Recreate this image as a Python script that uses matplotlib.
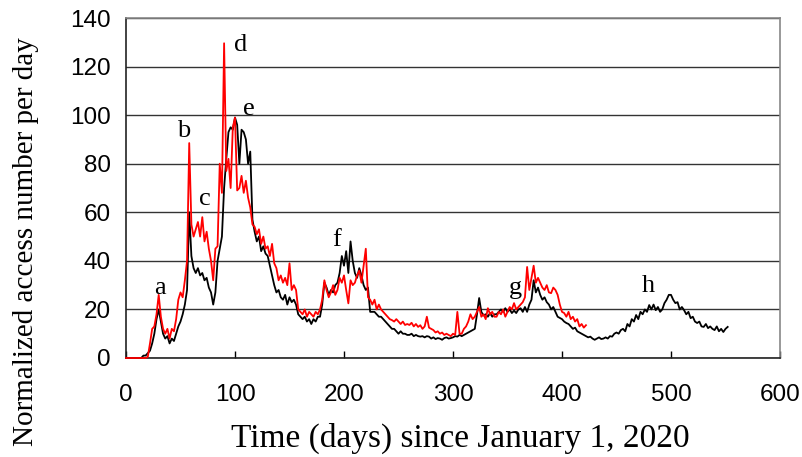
import numpy as np
import matplotlib
matplotlib.use("Agg")
import matplotlib.pyplot as plt

# Black series: sampled every 2 days, day 0 .. 552
black_days = np.arange(0, 553, 2)
black_vals = [
    0, 0, 0, 0, 0, 0, 0, 0, 1, 1,                   # 0-18
    2, 3, 6, 10, 16, 20, 15, 10, 8, 9,              # 20-38
    6, 8, 7, 10, 13, 15, 18, 22, 28, 60,            # 40-58
    42, 37, 35, 37, 34, 35, 32, 33, 29, 27,         # 60-78
    22, 27, 40, 45, 50, 70, 82, 93, 95, 94,         # 80-98
    99, 96, 80, 94, 93, 90, 80, 85, 57, 52,         # 100-118
    48, 50, 44, 46, 43, 42, 38, 34, 30, 27,         # 120-138
    28, 25, 24, 26, 22, 25, 23, 24, 22, 18,         # 140-158
    17, 16, 17, 15, 16, 14, 16, 15, 17, 17,         # 160-178
    22, 31, 29, 26, 28, 27, 30, 31, 35, 42,         # 180-198
    38, 44, 35, 48, 40, 35, 33, 37, 34, 30,         # 200-218
    28, 29, 19, 19, 19, 18, 17, 17, 16, 15,         # 220-238
    14, 13, 12, 12, 11, 10, 11, 10, 10, 9.5,        # 240-258
    9.5, 10, 9, 9.5, 9, 8.8, 9, 8.5, 9, 8.8,        # 260-278
    8, 8.5, 7.8, 8.2, 8, 7.5, 8.2, 8.5, 8, 8.2,     # 280-298
    8.5, 9, 8.8, 9.5, 9, 9.5, 10, 10.5, 11, 11.5,   # 300-318
    12, 18, 24.7, 19, 17.5, 18, 17, 18.5, 17, 18,   # 320-338
    18, 19, 20, 19, 20.5, 19, 20, 18.5, 19.5, 18.5, # 340-358
    20, 20.5, 19, 21, 19, 22, 24, 32, 27, 29,       # 360-378
    26, 24, 25, 23, 22, 20, 21, 19, 17, 16.5,       # 380-398
    16, 15, 14.4, 14, 13, 12, 12.5, 11, 10.5, 10,   # 400-418
    9.5, 9, 8.5, 8.8, 8, 7.5, 8, 8.5, 7.8, 8,       # 420-438
    8.5, 8, 9, 8.8, 10, 10.5, 10, 11.5, 12, 11,     # 440-458
    14, 13, 16, 15, 17.7, 16, 19, 18, 20, 19,       # 460-478
    21.8, 20, 22, 19.7, 21, 19, 20, 22.6, 24, 26,   # 480-498
    26, 24, 22.6, 23, 20, 21, 19.7, 18, 19, 16.4,   # 500-518
    17, 15, 14.4, 15, 13, 12.8, 14, 12.3, 13, 12,   # 520-538
    11.5, 13, 11, 12, 10.7, 12, 12.8,               # 540-552
]

# Red series: sampled every 2 days, day 0 .. 422
red_days = np.arange(0, 423, 2)
red_vals = [
    0, 0, 0, 0, 0, 0, 0, 0, 0, 0,                   # 0-18
    0.5, 6, 12, 13, 18, 26, 17, 12, 10, 12,         # 20-38
    8, 12, 11, 16, 24, 27, 25, 32, 40, 88.5,        # 40-58
    55, 50, 53, 56, 50, 58, 48, 52, 45, 40,         # 60-78
    32, 45, 46, 80, 68, 129.6, 77, 82, 70, 95,      # 80-98
    99, 69, 70, 75, 68, 73, 66, 62, 55, 54,         # 100-118
    51, 53, 47, 50, 45, 46, 42, 47, 39, 37,         # 120-138
    32, 34, 31, 33, 30, 39, 28, 30, 28, 20,         # 140-158
    19, 18, 20, 17, 19, 18, 17, 19, 18, 20,         # 160-178
    24, 32, 28, 25, 27, 30, 26, 28, 33, 31,         # 180-198
    34, 28, 22.5, 32, 30, 31, 34, 36, 31, 38,       # 200-218
    45, 25, 24, 22, 24, 20, 22, 20, 19, 18,         # 220-238
    17, 16, 15.6, 15, 16, 15, 14, 15, 13.6, 14,     # 240-258
    13.6, 14.5, 13, 14, 12.8, 13.5, 12, 13, 17, 12.5,  # 260-278
    12, 11.5, 10.5, 11, 10, 10.5, 9.5, 10, 9.5, 9,  # 280-298
    10, 9.5, 19, 10, 10, 12, 13, 15, 18, 16,        # 300-318
    17, 19, 21, 17, 18, 16, 20.5, 18, 19, 17,       # 320-338
    17, 19, 18, 20, 17, 19, 21, 20, 22.6, 20,       # 340-358
    21, 22, 23, 25, 37.5, 28, 33, 38, 31, 33,       # 360-378
    31, 29, 28, 30, 27, 26.7, 29, 28, 26, 22,       # 380-398
    19, 18.5, 17, 19, 16, 17, 15, 16, 13, 14,       # 400-418
    12.5, 13.5,                                     # 420-422
]

# Peak annotations
peak_labels = ["a", "b", "c", "d", "e", "f", "g", "h"]
peak_x = [31, 52.5, 72, 105, 112.5, 193.5, 357.5, 479]
peak_y = [29, 93.5, 65.5, 129, 102.5, 48.5, 29, 29.5]

x_ticks = [0, 100, 200, 300, 400, 500, 600]
y_ticks = [0, 20, 40, 60, 80, 100, 120, 140]

fig = plt.figure(figsize=(8.02, 4.57), dpi=100)
ax = fig.add_axes([126 / 802, 99 / 457, 654 / 802, 340 / 457])

ax.plot(black_days, black_vals, color="black", lw=1.3, zorder=3, clip_on=False)
ax.plot(red_days, red_vals, color="#ff0000", lw=1.3, zorder=4, clip_on=False)

serif = ["Liberation Serif", "DejaVu Serif"]
for lab, px, py in zip(peak_labels, peak_x, peak_y):
    ax.text(px, py, lab, family=serif, fontsize=19, ha="center", va="center", zorder=5)

ax.set_xlim(0, 600)
ax.set_ylim(0, 140)
ax.set_xticks(x_ticks)
ax.set_yticks(y_ticks)
ax.yaxis.grid(True, color="#333333", lw=1.0)
ax.set_axisbelow(True)
ax.tick_params(axis="x", direction="in", length=5, width=1, labelsize=17.5, pad=19)
ax.tick_params(axis="y", direction="in", length=0, labelsize=17.5, pad=11)
for lab in ax.get_xticklabels() + ax.get_yticklabels():
    lab.set_family(["Liberation Sans", "DejaVu Sans"])

for s in ["left", "bottom"]:
    ax.spines[s].set_color("#222222")
    ax.spines[s].set_linewidth(1.2)
for s in ["top", "right"]:
    ax.spines[s].set_color("#888888")
    ax.spines[s].set_linewidth(1.2)

ax.set_xlabel("Time (days) since January 1, 2020", family=serif, fontsize=24, va="center")
ax.xaxis.set_label_coords((460 - 126) / 654, (358 - 438) / 340)
ax.set_ylabel("Normalized access number per day", family=serif, fontsize=21, va="center")
ax.yaxis.set_label_coords((26 - 126) / 654, (358 - 242) / 340)

fig.savefig("out.png", dpi=100)
